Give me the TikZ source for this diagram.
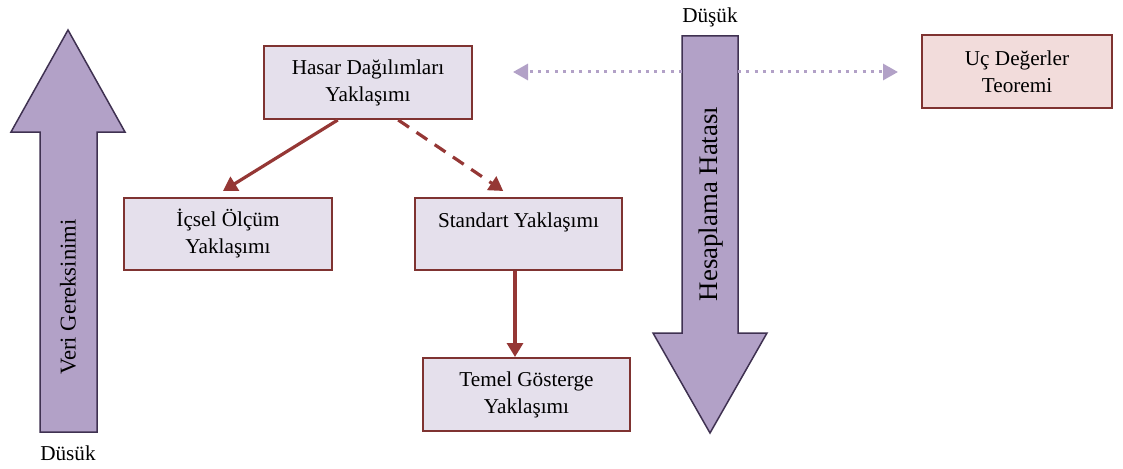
\documentclass[tikz,border=0pt]{standalone}
\usepackage{fontspec}
\setmainfont{Liberation Serif}
\usetikzlibrary{arrows.meta,calc}
\definecolor{boxfill}{HTML}{E5E0EC}
\definecolor{pinkfill}{HTML}{F2DCDB}
\definecolor{boxline}{HTML}{7F3331}
\definecolor{linkred}{HTML}{953735}
\definecolor{bigfill}{HTML}{B2A1C7}
\definecolor{bigline}{HTML}{3F3151}
\tikzset{
  txt/.style={font=\fontsize{21.2}{27}\selectfont, inner sep=0pt},
  mbox/.style={txt, draw=boxline, line width=2pt, fill=boxfill, align=center,
    minimum width=#1, minimum height=73pt},
  mbox/.default=208pt,
  link/.style={draw=linkred, line width=3.2pt, -{Triangle[length=14pt,width=16pt]}},
  dashlink/.style={link, dash pattern=on 13pt off 9pt},
  bigarrow/.style={fill=bigfill, draw=bigline, line width=1.5pt, line join=miter},
  dotlink/.style={draw=bigfill, line width=3pt, dash pattern=on 3pt off 5.3pt,
    -{Triangle[length=15pt,width=16pt]}},
}
\begin{document}
\begin{tikzpicture}[x=1pt,y=-1pt]
\useasboundingbox (0,0) rectangle (1123,468);

% vertical scale arrows
\draw[bigarrow] (68,30) -- (125,132) -- (97,132) -- (97,432) -- (40,432) -- (40,132) -- (11,132) -- cycle;
\draw[bigarrow] (682,36) -- (738,36) -- (738,333) -- (767,333) -- (710,433) -- (653,333) -- (682,333) -- cycle;
\node[txt, font=\fontsize{22.6}{24}\selectfont, rotate=90] (veri) at (68,297) {Veri Gereksinimi};
\node[txt, font=\fontsize{26.8}{28}\selectfont, rotate=90] (hata) at (711,204) {Hesaplama Hatası};
\node[txt] (dusukL) at (68,453) {Düsük};
\node[txt] (dusukR) at (710,17) {Düşük};

% approach boxes
\node[mbox] (hasar) at (368,82.5) {Hasar Dağılımları\\Yaklaşımı};
\node[mbox=190pt, fill=pinkfill] (uc) at (1017,71.5) {Uç Değerler\\Teoremi};
\node[mbox, minimum height=72pt] (icsel) at (228,234) {İçsel Ölçüm\\Yaklaşımı};
\node[mbox=207pt, minimum height=72pt] (standart) at (518.5,234) {Standart Yaklaşımı\\\mbox{}};
\node[mbox=207pt] (temel) at (526.5,394.5) {Temel Gösterge\\Yaklaşımı};

% links between approaches
\coordinate (hl) at ($(hasar.south west)!0.356!(hasar.south east)$);
\coordinate (hr) at ($(hasar.south west)!0.644!(hasar.south east)$);
\coordinate (ic) at ($(icsel.north west)!0.476!(icsel.north east)+(0,-6)$);
\coordinate (st) at ($(standart.north west)!0.427!(standart.north east)+(0,-6)$);
\draw[link] (hl) -- (ic);
\draw[dashlink] (hr) -- (st);
\coordinate (sd) at ($(temel.north)+(-11.5,0)$);
\draw[link] (sd |- standart.south) -- (sd);

% dotted range arrows
\coordinate (dl) at (682,72);
\coordinate (dr) at (738,72);
\draw[dotlink] (dl) -- ($(hasar.east |- dl)+(40,0)$);
\draw[dotlink] (dr) -- ($(uc.west |- dr)+(-23,0)$);
\end{tikzpicture}
\end{document}
